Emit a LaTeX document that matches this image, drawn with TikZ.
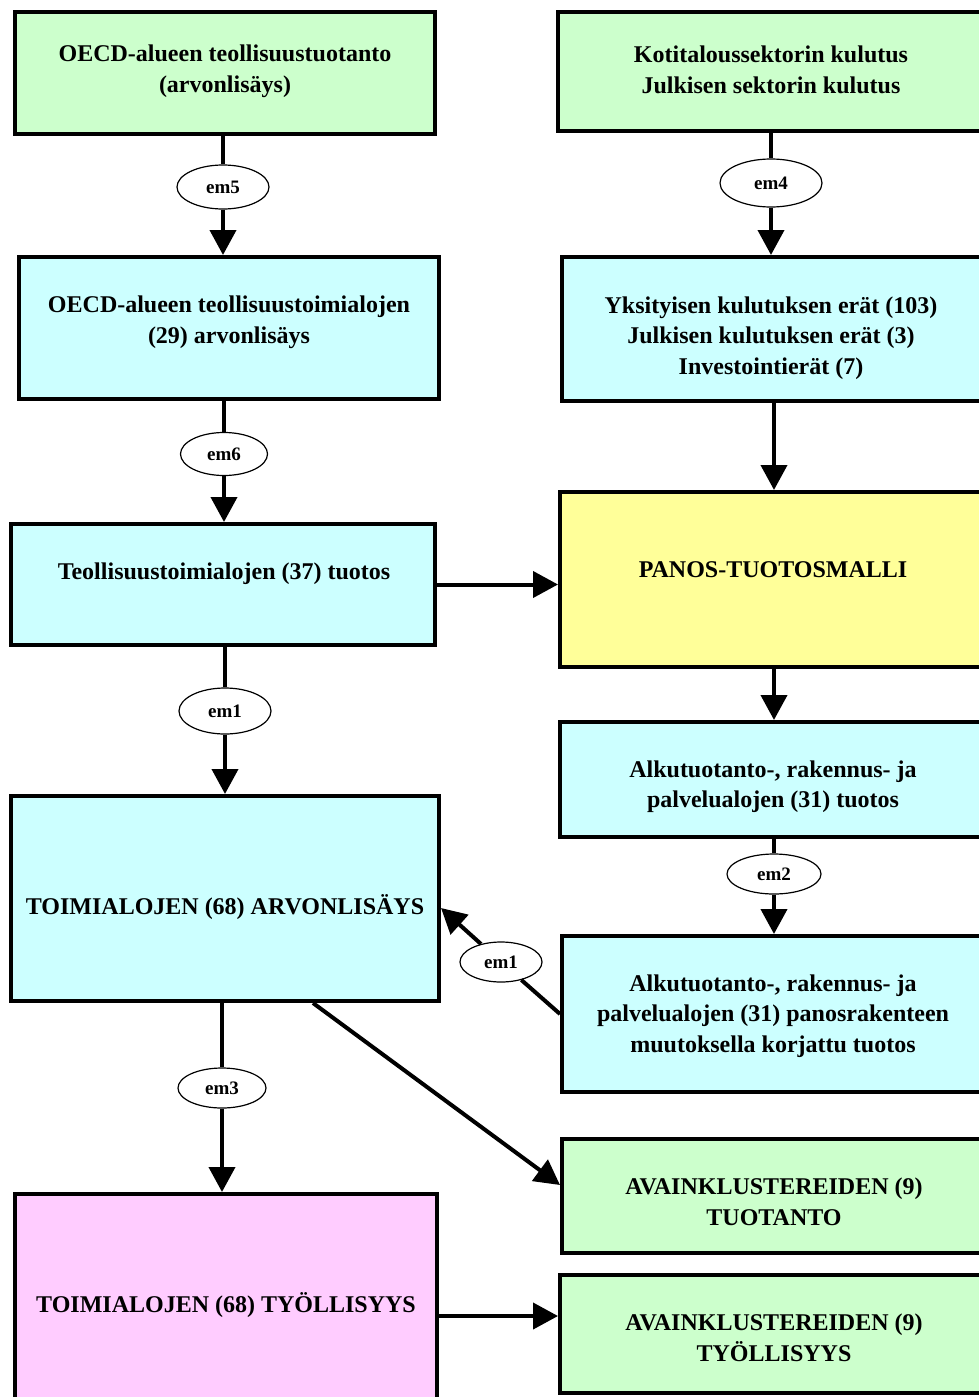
\documentclass[tikz,border=0pt]{standalone}
\usepackage{fontspec}
\setmainfont{Liberation Serif}
\usetikzlibrary{arrows.meta,shapes.geometric}
\definecolor{cgreen}{HTML}{CCFFCC}
\definecolor{ccyan}{HTML}{CCFFFF}
\definecolor{cyellow}{HTML}{FFFF99}
\definecolor{cpink}{HTML}{FFCCFF}
\tikzset{
  box/.style={draw, line width=2pt, rectangle, inner sep=0pt},
  lbl/.style={font=\bfseries\fontsize{12}{15.25}\selectfont, align=center, inner sep=0pt},
  ell/.style={draw, ellipse, line width=0.6pt, fill=white, inner sep=0pt,
    font=\bfseries\fontsize{9.5}{10}\selectfont},
  conn/.style={line width=2pt},
  arr/.style={conn, -{Triangle[length=12.5pt,width=13pt]}}
}
\begin{document}
\begin{tikzpicture}[x=0.5pt,y=-0.5pt]
\useasboundingbox (0,0) rectangle (979,1397);
\clip (0,0) rectangle (979,1397);
% boxes
\node[box, fill=cgreen, minimum width=210pt, minimum height=61pt] (A) at (225,73) {};
\node[box, fill=cgreen, minimum width=215pt, minimum height=59.5pt] (B) at (773,71.5) {};
\node[box, fill=ccyan, minimum width=210pt, minimum height=71pt] (A2) at (229,328) {};
\node[box, fill=ccyan, minimum width=213pt, minimum height=72pt] (B2) at (775,329) {};
\node[box, fill=ccyan, minimum width=212pt, minimum height=60.5pt] (A3) at (223,584.5) {};
\node[box, fill=cyellow, minimum width=214pt, minimum height=87.5pt] (B3) at (774,579.5) {};
\node[box, fill=ccyan, minimum width=214pt, minimum height=102.5pt] (A4) at (225,898.5) {};
\node[box, fill=ccyan, minimum width=214pt, minimum height=57.5pt] (B4) at (774,779.5) {};
\node[box, fill=ccyan, minimum width=213pt, minimum height=78pt] (B5) at (775,1014) {};
\node[box, fill=cgreen, minimum width=213pt, minimum height=57pt] (B6) at (775,1196) {};
\node[box, fill=cpink, minimum width=211pt, minimum height=122pt] (A5) at (226,1316) {};
\node[box, fill=cgreen, minimum width=214pt, minimum height=59pt] (B7) at (774,1334) {};
% texts
\node[lbl] (tA) at (225,71.5) {OECD-alueen teollisuustuotanto\\(arvonlisäys)};
\node[lbl] (tB) at (771,70) {Kotitaloussektorin kulutus\\Julkisen sektorin kulutus};
\node[lbl] (tA2) at (229,322.5) {OECD-alueen teollisuustoimialojen\\(29) arvonlisäys};
\node[lbl] (tB2) at (771,338) {Yksityisen kulutuksen erät (103)\\Julkisen kulutuksen erät (3)\\Investointierät (7)};
\node[lbl] (tA3) at (224,573.5) {Teollisuustoimialojen (37) tuotos};
\node[lbl] (tB3) at (773,569.5) {PANOS-TUOTOSMALLI};
\node[lbl] (tA4) at (225,907) {TOIMIALOJEN (68) ARVONLISÄYS};
\node[lbl] (tB4) at (773,786.5) {Alkutuotanto-, rakennus- ja\\palvelualojen (31) tuotos};
\node[lbl] (tB5) at (773,1016) {Alkutuotanto-, rakennus- ja\\palvelualojen (31) panosrakenteen\\muutoksella korjattu tuotos};
\node[lbl] (tB6) at (774,1202) {AVAINKLUSTEREIDEN (9)\\TUOTANTO};
\node[lbl] (tA5) at (226,1305) {TOIMIALOJEN (68) TYÖLLISYYS};
\node[lbl] (tB7) at (774,1338) {AVAINKLUSTEREIDEN (9)\\TYÖLLISYYS};
% ellipses
\node[ell, minimum width=46pt, minimum height=22pt] (em5) at (223,187) {em5};
\node[ell, minimum width=51pt, minimum height=24pt] (em4) at (771,183) {em4};
\node[ell, minimum width=43.5pt, minimum height=21.5pt] (em6) at (224,454) {em6};
\node[ell, minimum width=46pt, minimum height=23pt] (em1a) at (225,711) {em1};
\node[ell, minimum width=47pt, minimum height=20pt] (em2) at (774,874) {em2};
\node[ell, minimum width=41pt, minimum height=20pt] (em1b) at (501,962) {em1};
\node[ell, minimum width=44pt, minimum height=20pt] (em3) at (222,1088) {em3};
% connectors
\draw[conn] (A.south -| em5) -- (em5.north);
\draw[arr] (em5.south) -- (em5.south |- A2.north);
\draw[conn] (B.south -| em4) -- (em4.north);
\draw[arr] (em4.south) -- (em4.south |- B2.north);
\draw[conn] (A2.south -| em6) -- (em6.north);
\draw[arr] (em6.south) -- (em6.south |- A3.north);
\draw[conn] (A3.south -| em1a) -- (em1a.north);
\draw[arr] (em1a.south) -- (em1a.south |- A4.north);
\draw[arr] (A3.east) -- (A3.east -| B3.west);
\draw[arr] (B2.south -| B3.north) -- (B3.north);
\draw[arr] (B3.south) -- (B3.south |- B4.north);
\draw[conn] (B4.south) -- (B4.south -| em2) -- (em2.north);
\draw[arr] (em2.south) -- (em2.south |- B5.north);
\draw[conn] (B5.west) -- (em1b);
\draw[arr] (em1b) -- ([yshift=-4.75pt]A4.east);
\draw[conn] (A4.south -| em3) -- (em3.north);
\draw[arr] (em3.south) -- (em3.south |- A5.north);
\draw[arr] ([xshift=44pt]A4.south) -- ([yshift=5.5pt]B6.west);
\draw[arr] (A5.east) -- (A5.east -| B7.west);
\end{tikzpicture}
\end{document}
